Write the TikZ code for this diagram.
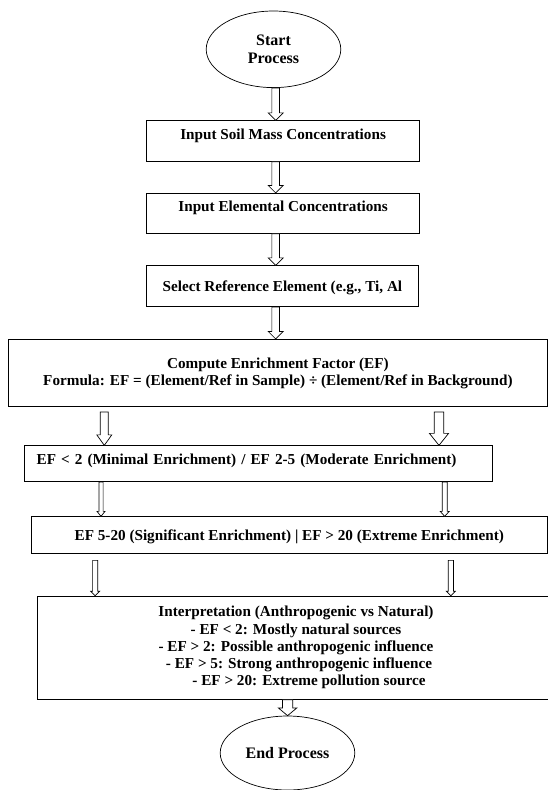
\documentclass[tikz,border=0pt]{standalone}
\usepackage{fontspec}
\setmainfont{Liberation Serif}
\usetikzlibrary{shapes.geometric,calc}

%% hollow block arrow: from, to, shaft half width, head half width, head length
\newcommand{\hollowarrow}[5]{%
  \draw[fill=white] let \p1=(#1), \p2=(#2) in
    (\x2-#3,\y1) -- (\x2-#3,\y2+#5) -- (\x2-#4,\y2+#5) -- (\x2,\y2)
    -- (\x2+#4,\y2+#5) -- (\x2+#3,\y2+#5) -- (\x2+#3,\y1) -- cycle;}

\begin{document}
\begin{tikzpicture}[x=1pt,y=-1pt,line width=0.7pt,
    every node/.style={font=\fontsize{15.2}{17.2}\selectfont\bfseries},
    box/.style={draw,rectangle,inner sep=0pt,align=center},
    oneline/.style={text height=11pt,text depth=#1},
    oval/.style={draw,ellipse,inner sep=0pt,align=center,font=\fontsize{16}{17.4}\selectfont\bfseries}]
    \useasboundingbox (0,0) rectangle (548,790);
    \clip (0,0) rectangle (548,790);
    %% start
    \node[oval,minimum width=134.6,minimum height=76.6] (start) at (273.5,49.3) {Start\\Process};
    %% inputs
    \node[box,oneline=14pt,minimum width=272.6,minimum height=40.6] (in1) at (283.1,141) {Input Soil Mass Concentrations};
    \node[box,oneline=14pt,minimum width=272.6,minimum height=40] (in2) at (283.1,213.3) {Input Elemental Concentrations};
    \node[box,oneline=1pt,minimum width=272.6,minimum height=41] (sel) at (282.4,286.2) {Select Reference Element (e.g., Ti, Al};
    %% enrichment factor
    \node[box,minimum width=538.3,minimum height=67.4] (comp) at (277.9,373) {Compute Enrichment Factor (EF)\\Formula: EF = (Element/Ref in Sample) ÷ (Element/Ref in Background)};
    %% classes
    \node[box,oneline=10.4pt,align=left,text width=443.9,inner xsep=12.2,minimum height=36] (cls1) at (258.65,463.7) {EF < 2 (Minimal Enrichment) / EF 2-5 (Moderate Enrichment)};
    \node[box,oneline=1pt,minimum width=515.5,minimum height=36.6] (cls2) at (289.25,535) {EF 5-20 (Significant Enrichment) | EF > 20 (Extreme Enrichment)};
    %% interpretation
    \node[box,minimum width=516.6,minimum height=103.3] (interp) at (296,647.7) {Interpretation (Anthropogenic vs Natural)\\- EF < 2: Mostly natural sources\\- EF > 2: Possible anthropogenic influence\\\hspace*{6pt}- EF > 5: Strong anthropogenic influence\\\hspace*{26pt}- EF > 20: Extreme pollution source};
    %% end
    \node[oval,minimum width=134.6,minimum height=74] (endp) at (287.5,753) {End Process};
    %% arrows
    \coordinate (mid) at (275.7,0);
    \coordinate (l5) at (104.3,0);
    \coordinate (r5) at (439,0);
    \coordinate (l6) at (101,0);
    \coordinate (r6) at (444.7,0);
    \coordinate (l7) at (95.2,0);
    \coordinate (r7) at (450.8,0);
    \coordinate (e8) at (287.6,0);
    \hollowarrow{start.south}{in1.north -| mid}{3.85pt}{7.5pt}{7.5pt}
    \hollowarrow{in1.south}{in2.north -| mid}{3.85pt}{7.5pt}{7.5pt}
    \hollowarrow{in2.south}{sel.north -| mid}{3.85pt}{7.5pt}{7.5pt}
    \hollowarrow{sel.south}{comp.north -| mid}{3.85pt}{7.5pt}{7.5pt}
    \hollowarrow{$(comp.south)+(0,5)$}{cls1.north -| l5}{4pt}{7.5pt}{10.5pt}
    \hollowarrow{$(comp.south)+(0,5)$}{cls1.north -| r5}{4.7pt}{9.6pt}{12pt}
    \hollowarrow{cls1.south}{cls2.north -| l6}{2.1pt}{4pt}{5pt}
    \hollowarrow{cls1.south}{cls2.north -| r6}{2.5pt}{4.5pt}{5pt}
    \hollowarrow{$(cls2.south)+(0,6.7)$}{interp.north -| l7}{2.6pt}{4.5pt}{4.5pt}
    \hollowarrow{$(cls2.south)+(0,6.7)$}{interp.north -| r7}{2.6pt}{4.5pt}{4.5pt}
    \hollowarrow{interp.south}{endp.north -| e8}{5.2pt}{9.2pt}{7.7pt}
\end{tikzpicture}
\end{document}
